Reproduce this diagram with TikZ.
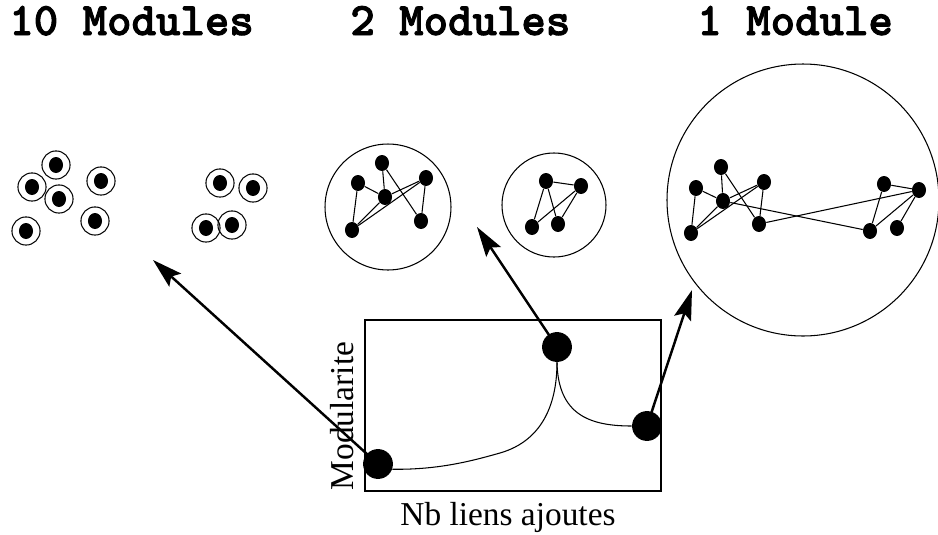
\documentclass[tikz,border=0pt]{standalone}
\usepackage{fontspec}
\setmainfont{Liberation Serif}
\newfontfamily\titlefont{lmmonolt10-bold.otf}[FakeBold=2]
\usetikzlibrary{shapes,arrows.meta}
\tikzstyle{title} = [font=\titlefont\fontsize{26.5}{30}\selectfont, anchor=base west, inner sep=0pt]
\tikzstyle{axislabel} = [font=\fontsize{19}{22}\selectfont, inner sep=0pt]
\tikzstyle{ring} = [circle, draw, line width=0.6pt, minimum size=16pt, inner sep=0pt]
\tikzstyle{vertex} = [ellipse, fill=black, minimum width=8pt, minimum height=9.1pt, inner sep=0pt]
\tikzstyle{module} = [circle, draw, line width=0.6pt, inner sep=0pt]
\tikzstyle{state} = [circle, fill=black, minimum size=17pt, inner sep=0pt]
\tikzstyle{edge} = [draw, line width=0.6pt]
\tikzstyle{jump} = [draw, line width=1.4pt, -{Stealth[length=17pt,width=10pt,inset=3pt]}]

\begin{document}
\begin{tikzpicture}[x=0.02cm, y=-0.02cm]
\useasboundingbox (0,0) rectangle (938,535);
\node [title] (t10) at (9,35) {10 Modules};
\node [title] (t2) at (350,35) {2 Modules};
\node [title] (t1) at (697,35) {1 Module};
% 10 modules: one vertex each
\foreach \p [count=\i] in {(56,165),(32,187),(59,199),(101,181),(95,221),(26,231),(220,183),(253,188),(206,228),(232,225)} {
  \node [ring] (r\i) at \p {};
  \node [vertex] (s\i) at \p {};
}
% 2 modules
\node [module, minimum size=71.7pt] (modA) at (388,207) {};
\node [vertex] (a) at (382,163) {};
\node [vertex] (b) at (358,183) {};
\node [vertex] (c) at (385,197) {};
\node [vertex] (d) at (426,178) {};
\node [vertex] (e) at (421,221) {};
\node [vertex] (f) at (352,230) {};
\foreach \u/\v in {a/c, a/e, b/c, b/f, c/d, c/f, f/d, d/e}
  \path [edge] (\u) -- (\v);
\node [module, minimum size=59.2pt] (modB) at (554,205) {};
\node [vertex] (g) at (546,181) {};
\node [vertex] (h) at (581,186) {};
\node [vertex] (i) at (532,227) {};
\node [vertex] (j) at (558,224) {};
\foreach \u/\v in {g/h, g/i, g/j, i/h, h/j}
  \path [edge] (\u) -- (\v);
% 1 module
\node [module, minimum size=154.8pt] (modC) at (803,200) {};
\node [vertex] (k) at (721,167) {};
\node [vertex] (l) at (696,188) {};
\node [vertex] (m) at (723,201) {};
\node [vertex] (n) at (764,182) {};
\node [vertex] (o) at (759,224) {};
\node [vertex] (p) at (691,233) {};
\node [vertex] (q) at (884,184) {};
\node [vertex] (r) at (919,190) {};
\node [vertex] (s) at (870,231) {};
\node [vertex] (t) at (897,228) {};
\foreach \u/\v in {k/m, k/o, l/m, l/p, m/n, p/m, p/n, n/o, m/s, o/r, q/r, q/s, s/r, r/t}
  \path [edge] (\u) -- (\v);
% modularity plot
\draw [line width=0.6pt] (365,320) rectangle (661,491);
\node [axislabel, anchor=base] (xlab) at (508,525) {Nb liens ajoutes};
\node [axislabel, rotate=90, anchor=base] (ylab) at (353,416) {Modularite};
\node [state] (low) at (378,464) {};
\node [state] (peak) at (557,347) {};
\node [state] (high) at (647,426) {};
\path [edge] (low.-20) .. controls (440,470) and (475,460) .. (500,453)
  .. controls (545,440) and (557,400) .. (peak.south);
\path [edge] (peak.south) .. controls (558,415) and (590,426) .. (high.west);
\coordinate (to10) at (153,260);
\coordinate (to2) at (477,227);
\coordinate (to1) at (692,290);
\path [jump] (low.center) -- (to10);
\path [jump] (peak.center) -- (to2);
\path [jump] (high.center) -- (to1);
\end{tikzpicture}
\end{document}
